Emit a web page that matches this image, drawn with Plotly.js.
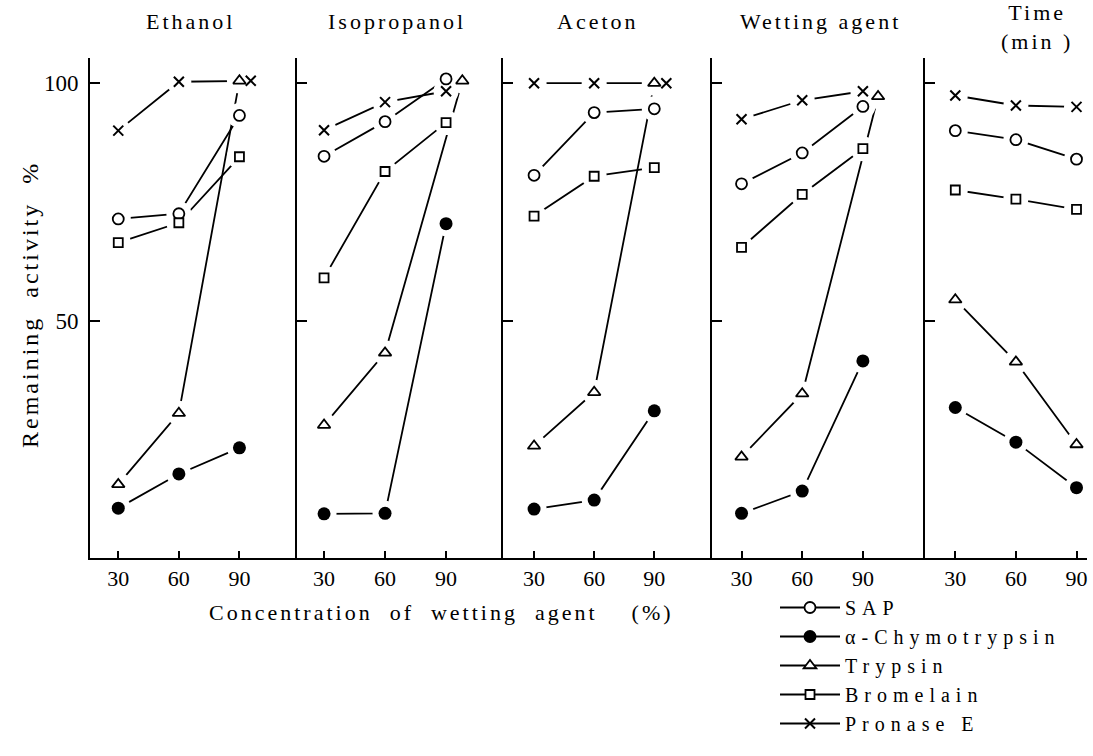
<!DOCTYPE html>
<html>
<head>
<meta charset="utf-8">
<script src="https://cdn.plot.ly/plotly-3.0.1.min.js"></script>
<style>
  html, body { margin: 0; padding: 0; background: #fff; }
  #chart { width: 1093px; height: 756px; }
  .legendtext { letter-spacing: 6px; }
  .annotation-text { letter-spacing: 3px; }
</style>
</head>
<body>
<div id="chart"></div>
<script>
// ---- data ----
const concentration = [30, 60, 90];
const panelTitles = ['Ethanol', 'Isopropanol', 'Aceton', 'Wetting agent', 'Time<br>(min )'];
const seriesNames = ['SAP', 'α-Chymotrypsin', 'Trypsin', 'Bromelain', 'Pronase E'];

// remaining activity % per panel (Ethanol, Isopropanol, Aceton, Wetting agent, Time)
const sap          = [[71.4, 72.5, 93.2], [84.6, 91.9, 100.9], [80.6, 93.8, 94.6], [78.8, 85.3, 95.1], [90.0, 88.1, 84.0]];
const chymotrypsin = [[10.5, 17.7, 23.2], [9.3, 9.4, 70.4],    [10.3, 12.2, 31.0], [9.4, 14.1, 41.5],  [31.7, 24.4, 14.8]];
const trypsin      = [[15.5, 30.5, 100.5], [28.0, 43.2, 100.5], [23.6, 34.9, 100.0], [21.3, 34.6, 97.2], [54.4, 41.3, 23.9]];
const bromelain    = [[66.4, 70.6, 84.5], [59.0, 81.4, 91.7],  [72.0, 80.4, 82.2], [65.4, 76.6, 86.2], [77.5, 75.6, 73.4]];
const pronaseE     = [[90.0, 100.3, 100.5], [90.1, 96.0, 98.3], [100.0, 100.0, 100.0], [92.4, 96.4, 98.3], [97.4, 95.3, 95.0]];

// x positions where the printed point sits beside the 90 mark
const trypsinX = [[30, 60, 90], [30, 60, 98], [30, 60, 90], [30, 60, 97.5], [30, 60, 90]];
const pronaseX = [[30, 60, 95.6], [30, 60, 90], [30, 60, 96], [30, 60, 90], [30, 60, 90]];

const yTicks = [50, 100];
const yTickText = ['50', '100'];

// ---- styling / layout ----
const W = 1093, H = 756;
const FONT = '"Liberation Serif", "Times New Roman", Times, serif';
const panelPx = [[90, 297], [297, 503], [503, 712], [712, 925], [925, 1087]];
const xRanges = [[16, 118.5], [16.7, 118], [14.5, 118.8], [15.4, 120.7], [15, 95.2]];
const titleCenters = [190, 397, 598, 820, 1037];
const yDomain = [(H - 558) / H, (H - 58) / H];
const yRange = [0, 105.3];
const HALO = 'white';

const series = [
  { name: seriesNames[0], y: sap,          x: null,     marker: { symbol: 'circle', size: 11, color: 'white', line: { color: 'black', width: 1.8 } } },
  { name: seriesNames[1], y: chymotrypsin, x: null,     marker: { symbol: 'circle', size: 13, color: 'black', line: { color: 'black', width: 0 } } },
  { name: seriesNames[2], y: trypsin,      x: trypsinX, marker: { symbol: 'triangle-up', size: 11, color: 'white', line: { color: 'black', width: 1.8 } } },
  { name: seriesNames[3], y: bromelain,    x: null,     marker: { symbol: 'square', size: 9, color: 'white', line: { color: 'black', width: 1.8 } } },
  { name: seriesNames[4], y: pronaseE,     x: pronaseX, marker: { symbol: 'x-thin', size: 10, color: 'black', line: { color: 'black', width: 2 } } }
];

const axName = (i) => (i === 0 ? '' : String(i + 1));
const legendTraces = [], lineTraces = [], haloTraces = [], markerTraces = [];

series.forEach((s) => {
  legendTraces.push({
    x: [null], y: [null], type: 'scatter', mode: 'lines+markers', name: s.name, showlegend: true,
    line: { color: 'black', width: 1.8 }, marker: JSON.parse(JSON.stringify(s.marker)), hoverinfo: 'skip'
  });
  for (let p = 0; p < 5; p++) {
    const xs = s.x ? s.x[p] : concentration;
    const ys = s.y[p];
    const common = { x: xs, y: ys, xaxis: 'x' + axName(p), yaxis: 'y' + axName(p), type: 'scatter', hoverinfo: 'skip', showlegend: false };
    lineTraces.push(Object.assign({}, common, { mode: 'lines', line: { color: 'black', width: 1.8 } }));
    // white halo leaves the small gap between each line and its points, as printed
    haloTraces.push(Object.assign({}, common, {
      mode: 'markers',
      marker: { symbol: 'circle', size: 25, color: HALO, opacity: 1, line: { width: 0 } }
    }));
    markerTraces.push(Object.assign({}, common, { mode: 'markers', marker: JSON.parse(JSON.stringify(s.marker)) }));
  }
});

const layout = {
  width: W, height: H,
  margin: { l: 0, r: 0, t: 0, b: 0, pad: 0 },
  paper_bgcolor: 'white', plot_bgcolor: 'rgba(0,0,0,0)',
  font: { family: FONT, size: 20, color: 'black' },
  showlegend: true,
  legend: {
    x: 775 / W, y: (H - 588) / H, xanchor: 'left', yanchor: 'top',
    itemwidth: 60, tracegroupgap: 0,
    font: { family: FONT, size: 20, color: 'black' },
    bgcolor: 'rgba(0,0,0,0)', borderwidth: 0, itemclick: false, itemdoubleclick: false
  },
  annotations: [],
  hovermode: false
};

for (let p = 0; p < 5; p++) {
  const s = axName(p);
  layout['xaxis' + s] = {
    domain: [panelPx[p][0] / W, panelPx[p][1] / W],
    range: xRanges[p], anchor: 'y' + s,
    tickmode: 'array', tickvals: concentration, ticktext: concentration.map(String),
    ticks: 'inside', ticklen: 7, tickwidth: 2, tickcolor: 'black',
    ticklabelstandoff: 0,
    showline: true, linewidth: 2, linecolor: 'black',
    showgrid: false, zeroline: false, fixedrange: true,
    tickfont: { family: FONT, size: 22, color: 'black' }
  };
  layout['yaxis' + s] = {
    domain: yDomain, range: yRange, anchor: 'x' + s,
    tickmode: 'array', tickvals: yTicks, ticktext: yTickText,
    ticks: 'inside', ticklen: 10, tickwidth: 2, tickcolor: 'black',
    showticklabels: p === 0, ticklabelstandoff: 5,
    showline: true, linewidth: 2, linecolor: 'black',
    showgrid: false, zeroline: false, fixedrange: true,
    tickfont: { family: FONT, size: 23, color: 'black' }
  };
  layout.annotations.push({
    text: panelTitles[p], xref: 'paper', yref: 'paper',
    x: titleCenters[p] / W, y: (H - (p === 4 ? 27 : 22)) / H,
    xanchor: 'center', yanchor: 'middle', showarrow: false,
    font: { family: FONT, size: 22, color: 'black' }
  });
}

layout.annotations.push({
  text: 'Concentration  of  wetting  agent    (%)', xref: 'paper', yref: 'paper',
  x: 441 / W, y: (H - 612) / H, xanchor: 'center', yanchor: 'middle', showarrow: false,
  font: { family: FONT, size: 22, color: 'black' }
});
layout.annotations.push({
  text: 'Remaining  activity  %', xref: 'paper', yref: 'paper', textangle: -90,
  x: 30 / W, y: (H - 305) / H, xanchor: 'center', yanchor: 'middle', showarrow: false,
  font: { family: FONT, size: 24, color: 'black' }
});

Plotly.newPlot('chart', legendTraces.concat(lineTraces, haloTraces, markerTraces), layout, { staticPlot: true, displayModeBar: false });
</script>
</body>
</html>
